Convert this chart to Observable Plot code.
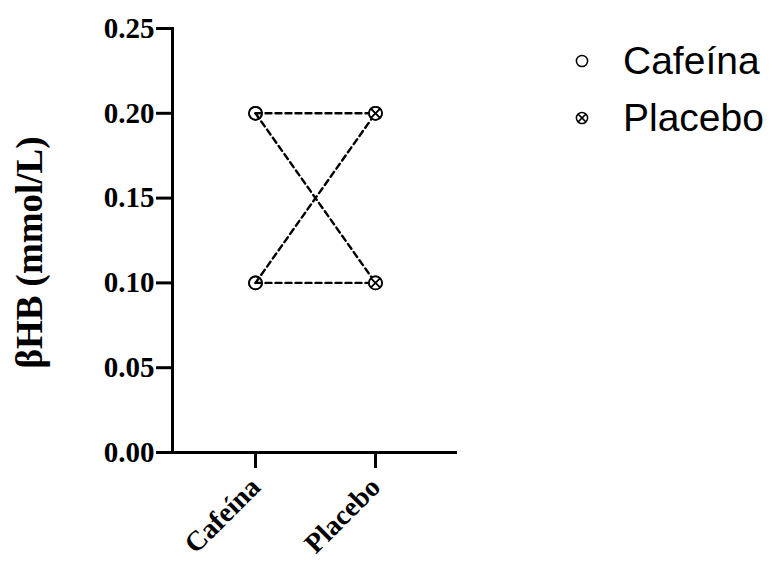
<!DOCTYPE html>
<html>
<head>
<meta charset="utf-8">
<script src="https://cdn.jsdelivr.net/npm/d3@7"></script>
<script src="https://cdn.jsdelivr.net/npm/@observablehq/plot@0.6"></script>
<style>
  html, body { margin: 0; padding: 0; background: #fff; }
  #wrap { position: relative; width: 775px; height: 562px; }
  #legend { position: absolute; left: 569px; top: 32px; font-family: "Liberation Sans", Arial, sans-serif; font-size: 39px; color: #000; }
  .item { display: flex; align-items: center; height: 57px; }
  .item svg { width: 26px; height: 26px; margin-right: 28px; }
</style>
</head>
<body>
<div id="wrap"><div id="legend"></div></div>
<script>
// Data
const categories = ["Cafeína", "Placebo"];
const subjects = ["S1", "S2", "S3", "S4"];
const cafeinaValues = [0.20, 0.20, 0.10, 0.10];
const placeboValues = [0.20, 0.10, 0.20, 0.10];
const yTicks = [0, 0.05, 0.10, 0.15, 0.20, 0.25];
const yLabel = "βHB (mmol/L)";

const rows = [];
subjects.forEach((s, i) => {
  rows.push({subject: s, group: categories[0], value: cafeinaValues[i]});
  rows.push({subject: s, group: categories[1], value: placeboValues[i]});
});
const cafRows = rows.filter(d => d.group === categories[0]);
const plaRows = rows.filter(d => d.group === categories[1]);

const serif = "'Liberation Serif', 'Times New Roman', serif";

const chart = Plot.plot({
  width: 775,
  height: 562,
  marginLeft: 172,
  marginRight: 318,
  marginTop: 28,
  marginBottom: 110,
  x: {type: "point", domain: categories, padding: 0.678},
  y: {domain: [0, 0.25]},
  marks: [
    Plot.line(rows, {x: "group", y: "value", z: "subject", stroke: "black", strokeWidth: 2.4, strokeDasharray: "6,4"}),
    Plot.dot(cafRows, {x: "group", y: "value", r: 6.5, stroke: "black", strokeWidth: 1.7, fill: "none"}),
    Plot.dot(plaRows, {x: "group", y: "value", r: 6.5, stroke: "black", strokeWidth: 1.7, fill: "white"}),
    Plot.dot(plaRows, {x: "group", y: "value", r: 4.3, symbol: "times", stroke: "black", strokeWidth: 1.6}),
    Plot.axisY({ticks: yTicks, tickFormat: d3.format(".2f"), tickSize: 16, tickPadding: 2, strokeWidth: 3, fontSize: 29, fontWeight: "bold", fontFamily: serif, label: null}),
    Plot.text([yLabel], {frameAnchor: "left", textAnchor: "middle", lineAnchor: "middle", rotate: -90, dx: -142, dy: 12, fontSize: 37, fontWeight: "bold", fontFamily: serif, fill: "black"}),
    Plot.axisX({tickSize: 16, tickPadding: 14, tickRotate: -45, strokeWidth: 3, fontSize: 28, fontWeight: "bold", fontFamily: serif, label: null}),
    Plot.frame({anchor: "left", strokeWidth: 3}),
    Plot.ruleY([0], {strokeWidth: 3})
  ]
});
document.getElementById("wrap").prepend(chart);

// Legend
const legend = document.getElementById("legend");
categories.forEach((c, i) => {
  const item = document.createElement("div");
  item.className = "item";
  const cross = i === 1 ? '<path d="M9.1 9.1L16.9 16.9M16.9 9.1L9.1 16.9" stroke="black" stroke-width="1.5"/>' : '';
  item.innerHTML = `<svg viewBox="0 0 26 26"><circle cx="13" cy="13" r="5.6" fill="none" stroke="black" stroke-width="1.5"/>${cross}</svg><span>${c}</span>`;
  legend.appendChild(item);
});
</script>
</body>
</html>
